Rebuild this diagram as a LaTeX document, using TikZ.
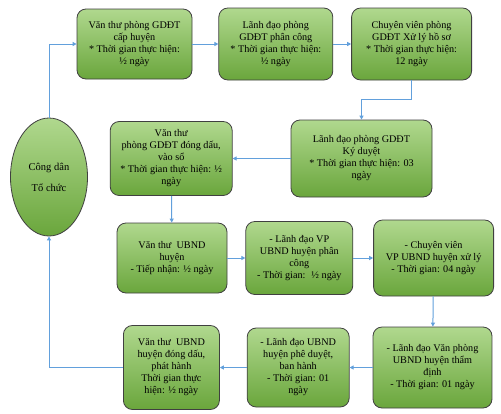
\documentclass[tikz,border=0pt]{standalone}
\usepackage{fontspec}
\setmainfont{Liberation Serif}
\usetikzlibrary{shapes.geometric, arrows.meta, positioning}
\definecolor{boxtop}{RGB}{176,216,142}
\definecolor{boxbot}{RGB}{106,166,60}
\definecolor{boxline}{RGB}{64,64,64}
\definecolor{flowblue}{RGB}{98,160,220}
\tikzset{
    stepbox/.style={rectangle, rounded corners=9pt, draw=boxline, line width=0.8pt,
                    top color=boxtop, bottom color=boxbot, align=center,
                    font=\fontsize{10.2}{12}\selectfont, inner sep=2pt},
    citizen/.style={ellipse, draw=boxline, line width=0.8pt,
                    top color=boxtop, bottom color=boxbot, align=center,
                    font=\fontsize{10.5}{12}\selectfont, inner sep=0pt},
    flow/.style={-{Triangle[length=4pt, width=4pt]}, draw=flowblue, line width=1pt},
}

\begin{document}
\begin{tikzpicture}[x=1pt, y=-1pt]

    \useasboundingbox[fill=white] (0,0) rectangle (501,413);

    % first row
    \node[stepbox, minimum width=115pt, minimum height=70pt] (vanthu) at (134.5,44)
        {Văn thư phòng GDĐT\\cấp huyện\\* Thời gian thực hiện:\\½ ngày};

    \node[stepbox, minimum width=114pt, minimum height=72pt, right=26pt of vanthu] (phancong)
        {Lãnh đạo phòng\\GDĐT phân công\\* Thời gian thực hiện:\\½ ngày};

    \node[stepbox, minimum width=120pt, minimum height=72pt, right=18pt of phancong] (xuly)
        {Chuyên viên phòng\\GDĐT Xử lý hồ sơ\\* Thời gian thực hiện:\\12 ngày};

    % second row
    \node[stepbox, minimum width=141pt, minimum height=77pt] (kyduyet) at (361.5,158.5)
        {Lãnh đạo phòng GDĐT\\Ký duyệt\\* Thời gian thực hiện: 03\\ngày};

    \node[stepbox, minimum width=122pt, minimum height=74pt, left=58pt of kyduyet] (dongdau)
        {Văn thư\\phòng GDĐT đóng dấu,\\vào sổ\\* Thời gian thực hiện: ½\\ngày};

    \node[citizen, minimum width=77pt, minimum height=118pt] (congdan) at (49,177)
        {Công dân\\[9pt]Tổ chức};

    % third row
    \node[stepbox, minimum width=110pt, minimum height=70pt] (tiepnhan) at (172,258)
        {Văn thư~ UBND\\huyện\\- Tiếp nhận: ½ ngày};

    \node[stepbox, minimum width=107pt, minimum height=73pt, right=18pt of tiepnhan] (vpphancong)
        {- Lãnh đạo VP\\UBND huyện phân\\công\\- Thời gian:~ ½ ngày};

    \node[stepbox, minimum width=120pt, minimum height=76pt, right=20pt of vpphancong] (vpxuly)
        {- Chuyên viên\\VP UBND huyện xử lý\\- Thời gian: 04 ngày};

    % fourth row
    \node[stepbox, minimum width=119pt, minimum height=81pt] (thamdinh) at (432.5,367.5)
        {- Lãnh đạo Văn phòng\\UBND huyện thẩm\\định\\- Thời gian: 01 ngày};

    \node[stepbox, minimum width=102pt, minimum height=79pt, left=23pt of thamdinh] (pheduyet)
        {- Lãnh đạo UBND\\huyện phê duyệt,\\ban hành\\- Thời gian: 01\\ngày};

    \node[stepbox, minimum width=96pt, minimum height=84pt, left=27pt of pheduyet] (phathanh)
        {Văn thư~ UBND\\huyện đóng dấu,\\phát hành\\Thời gian thực\\hiện: ½ ngày};

    % Citizen -> first row
    \draw[flow] (congdan.north) |- (vanthu.west);
    \draw[flow] (vanthu) -- (phancong);
    \draw[flow] (phancong) -- (xuly);

    % first row -> second row
    \draw[flow] (xuly.south) -- ++(0,19) -| (kyduyet.north);
    \draw[flow] (kyduyet) -- (dongdau);

    % second row -> third row
    \draw[flow] (dongdau) -- (tiepnhan);
    \draw[flow] (tiepnhan) -- (vpphancong);
    \draw[flow] (vpphancong) -- (vpxuly);

    % third row -> fourth row
    \draw[flow] (vpxuly) -- (thamdinh);
    \draw[flow] (thamdinh) -- (pheduyet);
    \draw[flow] (pheduyet) -- (phathanh);

    % back to citizen
    \draw[flow] (phathanh.west) -| (congdan.south);

\end{tikzpicture}
\end{document}
